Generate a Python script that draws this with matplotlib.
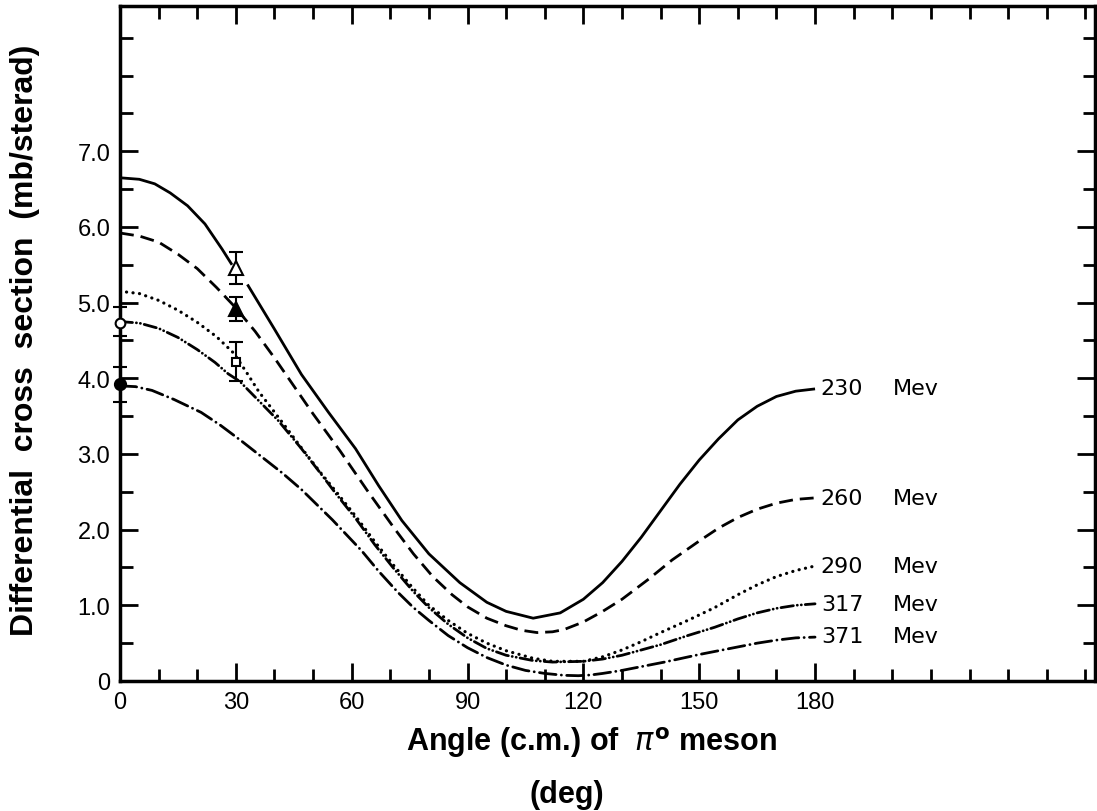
import matplotlib
matplotlib.use("Agg")
import matplotlib.pyplot as plt

# curves: angle (deg) -> cross section (mb/sterad)
ang_230_a = [0, 5, 9, 13, 17.5, 22, 26.4, 29]
val_230_a = [6.65, 6.63, 6.57, 6.45, 6.28, 6.04, 5.71, 5.5]
ang_230_b = [33, 40, 47, 54, 61, 67, 73, 80, 88, 95, 100, 107, 114, 120, 125, 130, 135, 140, 145,
             150, 155, 160, 165, 170, 175, 180]
val_230_b = [5.24, 4.65, 4.05, 3.55, 3.07, 2.58, 2.12, 1.68, 1.3, 1.04, 0.92, 0.83, 0.9, 1.08, 1.3,
             1.58, 1.9, 2.25, 2.6, 2.92, 3.2, 3.45, 3.63, 3.76, 3.83, 3.86]

ang_260 = [0, 5, 10, 15, 20, 25, 30, 35, 40, 45, 50, 57, 64, 71, 76, 81, 86, 90, 95, 100, 104, 108,
           112, 115, 120, 125, 130, 137, 143, 150, 155, 160, 165, 170, 175, 180]
val_260 = [5.92, 5.88, 5.8, 5.64, 5.45, 5.2, 4.93, 4.62, 4.27, 3.9, 3.53, 3.04, 2.52, 2.02, 1.68,
           1.38, 1.14, 0.98, 0.83, 0.73, 0.67, 0.64, 0.65, 0.68, 0.78, 0.92, 1.08, 1.35, 1.6, 1.85,
           2.02, 2.16, 2.27, 2.35, 2.4, 2.42]

ang_290 = [0, 5, 10, 15, 20, 25, 29.5, 33, 36, 42, 47, 52, 56, 61, 66, 71, 76, 80, 85, 90, 95, 100,
           107, 112, 120, 125, 130, 135, 140, 147, 154, 160, 165, 170, 175, 180]
val_290 = [5.15, 5.12, 5.03, 4.9, 4.74, 4.55, 4.33, 4.06, 3.82, 3.42, 3.08, 2.75, 2.5, 2.18, 1.84,
           1.52, 1.22, 1.0, 0.8, 0.63, 0.5, 0.4, 0.3, 0.26, 0.26, 0.32, 0.41, 0.52, 0.64, 0.8, 0.97,
           1.14, 1.27, 1.38, 1.46, 1.52]

ang_317 = [0, 5, 10, 15, 20, 24.6, 28, 31, 36, 41, 47, 52, 56, 61, 66, 71, 76, 80, 85, 90, 95, 100,
           107, 112, 120, 125, 130, 140, 147, 154, 160, 165, 170, 175, 180]
val_317 = [4.75, 4.73, 4.66, 4.54, 4.38, 4.21, 4.06, 3.96, 3.7, 3.44, 3.07, 2.74, 2.47, 2.15, 1.8,
           1.48, 1.18, 0.97, 0.75, 0.57, 0.43, 0.34, 0.27, 0.25, 0.26, 0.29, 0.34, 0.48, 0.6, 0.71,
           0.82, 0.9, 0.96, 1.0, 1.02]

ang_371 = [0, 4, 8.3, 14, 21, 26, 31.5, 37, 42, 47, 55, 62.6, 67, 72, 76, 80, 85, 90, 95, 100, 105,
           110, 115, 118.7, 122, 125, 130, 135, 141, 150, 160, 165, 170, 175, 180]
val_371 = [3.9, 3.89, 3.84, 3.72, 3.55, 3.38, 3.17, 2.95, 2.75, 2.53, 2.13, 1.72, 1.45, 1.17, 0.97,
           0.8, 0.6, 0.44, 0.31, 0.21, 0.14, 0.1, 0.075, 0.07, 0.08, 0.1, 0.14, 0.19, 0.25, 0.35,
           0.45, 0.5, 0.54, 0.57, 0.58]

energies = ["230", "260", "290", "317", "371"]
label_y = [3.87, 2.42, 1.52, 1.02, 0.6]

# measured points with error bars (angle, value, err low, err high)
pt_open_circ = (0, 4.73, 0.17, 0.21)
pt_full_circ = (0, 3.92, 0.23, 0.23)
pt_open_tri = (30, 5.46, 0.22, 0.21)
pt_full_tri = (30, 4.91, 0.15, 0.16)
pt_open_sq = (30, 4.21, 0.25, 0.27)

x_ticks = [0, 30, 60, 90, 120, 150, 180]
y_ticks = [0, 1, 2, 3, 4, 5, 6, 7]
y_ticklabels = ["0", "1.0", "2.0", "3.0", "4.0", "5.0", "6.0", "7.0"]

bold_font = "Liberation Sans"
num_font = "Liberation Sans"

plt.rcParams["lines.scale_dashes"] = False
plt.rcParams["mathtext.fontset"] = "dejavusans"

fig = plt.figure(figsize=(10.97, 8.12), dpi=100)
ax = fig.add_axes([120 / 1097, 130 / 812, 975 / 1097, 675 / 812])

lw = 2.0
ax.plot(ang_230_a, val_230_a, color="black", lw=lw, solid_capstyle="butt")
ax.plot(ang_230_b, val_230_b, color="black", lw=lw, solid_capstyle="butt")
ax.plot(ang_260, val_260, color="black", lw=lw, linestyle=(0, (10, 5)))
ax.plot(ang_290, val_290, color="black", lw=lw + 0.3, linestyle=(0, (0.1, 4.6)), dash_capstyle="round")
ax.plot(ang_317, val_317, color="black", lw=lw, linestyle=(0, (9, 2.8, 0.1, 2.8, 0.1, 2.8)), dash_capstyle="round")
ax.plot(ang_371, val_371, color="black", lw=lw, linestyle=(0, (12, 3.8, 0.1, 3.8)), dash_capstyle="round")

for num, yv in zip(energies, label_y):
    ax.text(181.5, yv, num, fontsize=16, family="DejaVu Sans", va="center", ha="left")
    ax.text(200.2, yv, "Mev", fontsize=16, family="DejaVu Sans", va="center", ha="left")


def err_point(pt, marker, face, size):
    x, y, lo, hi = pt
    ax.errorbar([x], [y], yerr=[[lo], [hi]], fmt=marker, color="black", mfc=face,
                mec="black", ms=size, mew=1.5, elinewidth=1.5, capsize=5, capthick=2,
                clip_on=False, zorder=5)


err_point(pt_open_circ, "o", "white", 7)
err_point(pt_full_circ, "o", "black", 8)
err_point(pt_open_tri, "^", "white", 10)
err_point(pt_full_tri, "^", "black", 10)
err_point(pt_open_sq, "s", "white", 6)

ax.set_xlim(0, 252.5)
ax.set_ylim(0, 8.92)
ax.set_xticks(x_ticks)
ax.set_xticks(range(0, 251, 10), minor=True)
ax.set_yticks(y_ticks)
ax.set_yticklabels(y_ticklabels)
ax.set_yticks([v / 2 for v in range(0, 18)], minor=True)

ax.tick_params(which="both", direction="in", top=True, right=True, width=2, color="black")
ax.tick_params(which="major", length=13, labelsize=17, pad=7)
ax.tick_params(which="minor", length=9)
for lab in ax.get_xticklabels() + ax.get_yticklabels():
    lab.set_family(num_font)
for sp in ax.spines.values():
    sp.set_linewidth(2.5)

fig.text(25 / 1097, 1 - 340 / 812, "Differential  cross  section  (mb/sterad)", rotation=90,
         ha="center", va="center", fontsize=23, fontweight="bold", family=bold_font)
fig.text(592 / 1097, 1 - 742 / 812, r"Angle (c.m.) of  $\pi^{\mathbf{o}}$ meson",
         ha="center", va="center", fontsize=22, fontweight="bold", family=bold_font)
fig.text(567 / 1097, 1 - 795 / 812, "(deg)",
         ha="center", va="center", fontsize=22, fontweight="bold", family=bold_font)

fig.savefig("out.png", dpi=100)
